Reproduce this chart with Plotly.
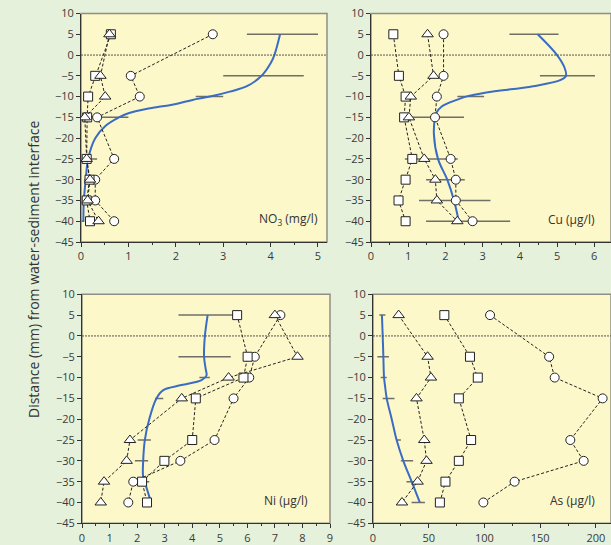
import plotly.graph_objects as go

depth = [5, -5, -10, -15, -25, -30, -35, -40]

# ---------- NO3 (mg/l) ----------
no3_circle = [2.78, 1.05, 1.24, 0.34, 0.70, 0.30, 0.30, 0.70]
no3_square = [0.63, 0.30, 0.15, 0.13, 0.12, 0.18, 0.12, 0.19]
no3_tri = [0.60, 0.41, 0.51, 0.08, 0.12, 0.19, 0.14, 0.37]
no3_mean = [4.25, 3.85, 2.71, 0.56, 0.19, 0.15, 0.10, 0.04]
no3_err = [0.75, 0.85, 0.29, 0.44, 0.15, 0.08, 0.06, 0.03]
no3_curve_y = [5, 0, -2, -5, -7.5, -8.8, -10, -10.8, -12, -12.8, -14, -15, -17, -20, -25, -30, -35, -40]
no3_curve_x = [4.2, 4.08, 4.0, 3.81, 3.5, 3.14, 2.72, 2.35, 1.9, 1.46, 1.0, 0.8, 0.52, 0.3, 0.15, 0.1, 0.06, 0.05]

# ---------- Cu (µg/l) ----------
cu_circle = [1.95, 1.95, 1.77, 1.72, 2.14, 2.28, 2.28, 2.73]
cu_square = [0.60, 0.75, 0.93, 0.89, 1.11, 0.93, 0.74, 0.93]
cu_tri = [1.52, 1.68, 1.07, 1.02, 1.43, 1.73, 1.77, 2.32]
cu_mean = [4.38, 5.28, 2.68, 1.70, 1.62, 2.00, 2.25, 2.61]
cu_err = [0.66, 0.74, 0.36, 0.80, 0.71, 0.52, 0.96, 1.13]
cu_curve_y = [5, 0, -3, -5, -6, -7.5, -9, -10, -10.8, -12.4, -14, -15, -19, -25, -30, -35, -40]
cu_curve_x = [4.48, 5.0, 5.2, 5.24, 5.1, 4.36, 3.1, 2.55, 2.3, 1.9, 1.75, 1.72, 1.69, 1.8, 2.05, 2.23, 2.36]

# ---------- Ni (µg/l) ----------
ni_circle = [7.20, 6.27, 6.07, 5.50, 4.81, 3.57, 1.86, 1.68]
ni_square = [5.63, 6.01, 5.86, 4.13, 4.00, 2.99, 2.18, 2.36]
ni_tri = [7.00, 7.82, 5.32, 3.62, 1.74, 1.62, 0.80, 0.68]
ni_mean = [4.56, 4.45, 4.45, 2.80, 2.26, 2.16, 2.32, None]
ni_err = [1.06, 0.95, 0.19, 0.15, 0.24, 0.24, 0.12, 0]
ni_curve_y = [5, 0, -5, -8, -9.5, -10.6, -11.8, -13, -15, -20, -25, -30, -34, -36, -39, -40]
ni_curve_x = [4.56, 4.46, 4.43, 4.49, 4.52, 4.34, 3.61, 2.95, 2.7, 2.44, 2.28, 2.22, 2.22, 2.32, 2.46, 2.5]

# ---------- As (µg/l) ----------
as_circle = [105, 158, 163, 206, 177, 189, 127, 99]
as_square = [64, 87, 94, 77, 88, 77, 65, 60]
as_tri = [23, 49, 52, 39, 46, 48, 40, 26]
as_mean = [8.4, 9.1, 9.6, 14.0, 23.0, 30.5, 35.7, 40.6]
as_err = [2.7, 5.2, 2.7, 5.3, 2.0, 5.5, 5.7, 6.0]
as_curve_y = [5, 0, -5, -10, -12, -15, -20, -25, -30, -35, -40]
as_curve_x = [8, 8.7, 9.3, 9.9, 10.8, 12.3, 16.8, 21.2, 27.2, 34.7, 42]

W, H = 611, 545
panels = [
    dict(xd=(81, 327), yd=(13.5, 242), xr=(0, 5.19), dt=1, label="NO<sub>3</sub> (mg/l)", lx=0.97,
         c=no3_circle, s=no3_square, t=no3_tri, m=no3_mean, e=no3_err, cx=no3_curve_x, cy=no3_curve_y),
    dict(xd=(371, 611), yd=(13.5, 242), xr=(0, 6.45), dt=1, label="Cu (µg/l)", lx=0.942,
         c=cu_circle, s=cu_square, t=cu_tri, m=cu_mean, e=cu_err, cx=cu_curve_x, cy=cu_curve_y),
    dict(xd=(82, 330), yd=(294.3, 523.3), xr=(0, 9.0), dt=1, label="Ni (µg/l)", lx=0.92,
         c=ni_circle, s=ni_square, t=ni_tri, m=ni_mean, e=ni_err, cx=ni_curve_x, cy=ni_curve_y),
    dict(xd=(373, 611), yd=(294.3, 523.3), xr=(0, 213.5), dt=50, label="As (µg/l)", lx=0.941,
         c=as_circle, s=as_square, t=as_tri, m=as_mean, e=as_err, cx=as_curve_x, cy=as_curve_y),
]

fig = go.Figure()
font = dict(family="Open Sans, Noto Sans, sans-serif", size=11, color="#3a3a3a")
layout = dict(width=W, height=H, margin=dict(l=0, r=0, t=0, b=0, autoexpand=False),
              paper_bgcolor="#e5f1db", plot_bgcolor="#fdf8c9",
              showlegend=False, font=font, shapes=[], annotations=[])

marker_common = dict(color="white", size=9, line=dict(color="#222222", width=1))
line_common = dict(color="#222222", width=1, dash="3px,2px")

for i, p in enumerate(panels):
    n = "" if i == 0 else str(i + 1)
    xa, ya = "x" + n, "y" + n
    x0, x1 = p["xd"]
    yt, yb = p["yd"]
    layout["xaxis" + n] = dict(
        domain=[x0 / W, x1 / W], range=list(p["xr"]), anchor=ya, automargin=False,
        showgrid=False, zeroline=False, showline=True, linecolor="#333333", linewidth=1,
        ticks="outside", ticklen=4, tickcolor="#333333", dtick=p["dt"], tick0=0,
        minor=dict(dtick=p["dt"] / 2, ticks="outside", ticklen=2, tickcolor="#333333"),
        tickfont=font,
    )
    layout["yaxis" + n] = dict(
        domain=[(H - yb) / H, (H - yt) / H], range=[-45, 10], anchor=xa, automargin=False,
        showgrid=False, zeroline=False, showline=True, linecolor="#333333", linewidth=1,
        ticks="outside", ticklen=4, tickcolor="#333333", dtick=5, tick0=0,
        tickfont=font,
    )
    # panel border (top & right)
    layout["shapes"].append(dict(type="rect", xref=xa + " domain", yref=ya + " domain",
                                 x0=0, x1=1, y0=0, y1=1, line=dict(color="#8f8f85", width=1.5),
                                 layer="below"))
    # dotted zero line
    layout["shapes"].append(dict(type="line", xref=xa + " domain", yref=ya,
                                 x0=0, x1=1, y0=0, y1=0,
                                 line=dict(color="#555555", width=1, dash="2px,1px")))
    layout["annotations"].append(dict(text=p["label"], xref=xa + " domain", yref=ya,
                                      x=p["lx"], y=-39.5, xanchor="right", yanchor="middle",
                                      showarrow=False, font=dict(family=font["family"], size=12, color="#333333")))

    # error bars
    fig.add_trace(go.Scatter(x=p["m"], y=depth, mode="markers", xaxis=xa, yaxis=ya,
                             marker=dict(size=1, opacity=0),
                             error_x=dict(type="data", array=p["e"], symmetric=True,
                                          color="#6f6f66", thickness=1.5, width=0)))
    # blue smooth curve
    fig.add_trace(go.Scatter(x=p["cx"], y=p["cy"], mode="lines", xaxis=xa, yaxis=ya,
                             line=dict(color="#3a6cc4", width=2, shape="spline", smoothing=1.0)))
    # data series
    for vals, sym in ((p["c"], "circle"), (p["s"], "square"), (p["t"], "triangle-up")):
        mk = dict(marker_common, symbol=sym)
        if sym == "triangle-up":
            mk["size"] = 10
        fig.add_trace(go.Scatter(x=vals, y=depth, mode="lines+markers", xaxis=xa, yaxis=ya,
                                 line=line_common, marker=mk))

layout["annotations"].append(dict(text="Distance (mm) from water-sediment interface",
                                  xref="paper", yref="paper", x=33 / W, y=(H - 270) / H,
                                  textangle=-90, showarrow=False, xanchor="center", yanchor="middle",
                                  font=dict(family=font["family"], size=14, color="#333333")))

fig.update_layout(**layout)
fig.write_html("out.html", config={"displayModeBar": False},
               post_script="document.body.style.margin='0px';document.body.style.padding='0px';"
                           "document.body.style.overflow='hidden';")
